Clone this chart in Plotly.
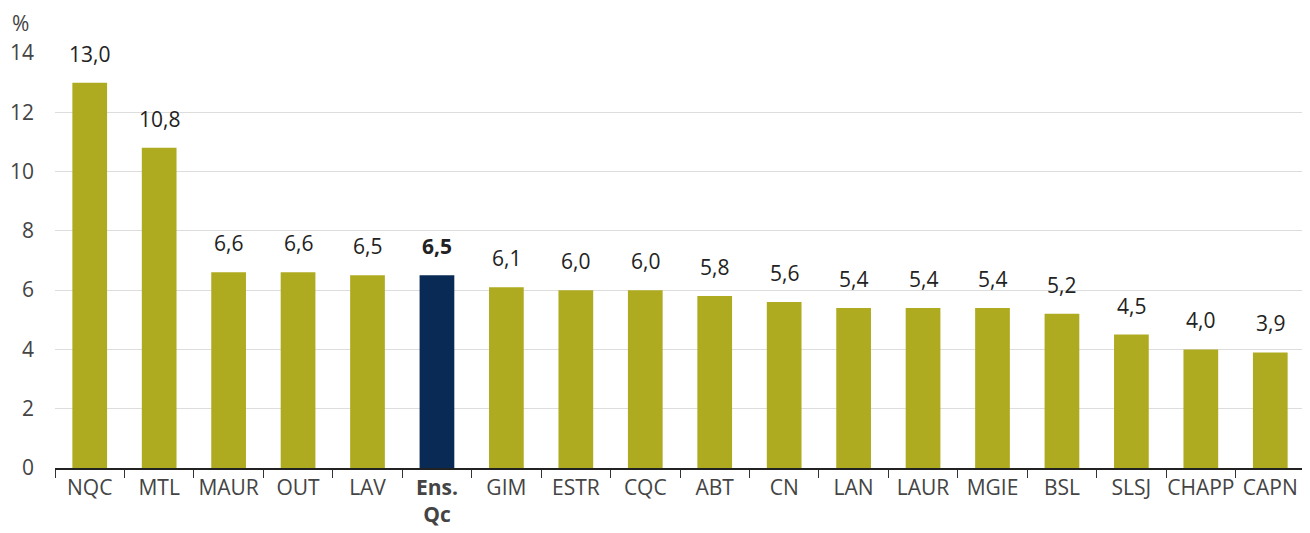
import plotly.graph_objects as go

categories = ["NQC", "MTL", "MAUR", "OUT", "LAV", "Ens.<br>Qc", "GIM", "ESTR", "CQC", "ABT",
              "CN", "LAN", "LAUR", "MGIE", "BSL", "SLSJ", "CHAPP", "CAPN"]
values = [13.0, 10.8, 6.6, 6.6, 6.5, 6.5, 6.1, 6.0, 6.0, 5.8, 5.6, 5.4, 5.4, 5.4, 5.2, 4.5, 4.0, 3.9]
highlight = "Ens.<br>Qc"
y_ticks = [0, 2, 4, 6, 8, 10, 12, 14]

OLIVE = "#AFAB21"
NAVY = "#082A54"
FONT = "Open Sans"

colors = [NAVY if c == highlight else OLIVE for c in categories]
tick_text = [("<b>%s</b>" % c) if c == highlight else c for c in categories]

fig = go.Figure(go.Bar(
    x=categories, y=values,
    marker=dict(color=colors, line=dict(width=0)),
    width=0.5,
))

for c, v in zip(categories, values):
    label = f"{v:.1f}".replace(".", ",")
    if c == highlight:
        label = "<b>%s</b>" % label
    fig.add_annotation(x=c, y=v, text=label, showarrow=False,
                       xanchor="center", yanchor="bottom", yshift=13,
                       font=dict(family=FONT, size=21, color="#222222"))

fig.update_layout(
    width=1310, height=533,
    margin=dict(l=47, r=13, t=45, b=73),
    paper_bgcolor="white", plot_bgcolor="white",
    font=dict(family=FONT, size=21, color="#444444"),
    showlegend=False,
)
fig.update_xaxes(
    type="category", automargin=False, tickangle=0,
    tickmode="array", tickvals=categories, ticktext=tick_text,
    tickson="boundaries", ticks="outside", ticklen=8, tickcolor="#333333", tickwidth=1,
    showline=True, linecolor="#222222", linewidth=1.5,
    showgrid=False,
    tickfont=dict(family=FONT, size=21, color="#444444"),
)
fig.update_yaxes(
    range=[0, 14], tickvals=y_ticks, automargin=False,
    showgrid=True, gridcolor="#DDDDDD", gridwidth=1,
    zeroline=False, showline=False,
    ticks="", ticklabelstandoff=20,
    tickfont=dict(family=FONT, size=21, color="#444444"),
)
fig.add_annotation(text="%", xref="paper", yref="paper", x=-0.028, y=1.0, yshift=30,
                   xanchor="center", yanchor="middle", showarrow=False,
                   font=dict(family=FONT, size=21, color="#444444"))

fig.write_html("out.html")
